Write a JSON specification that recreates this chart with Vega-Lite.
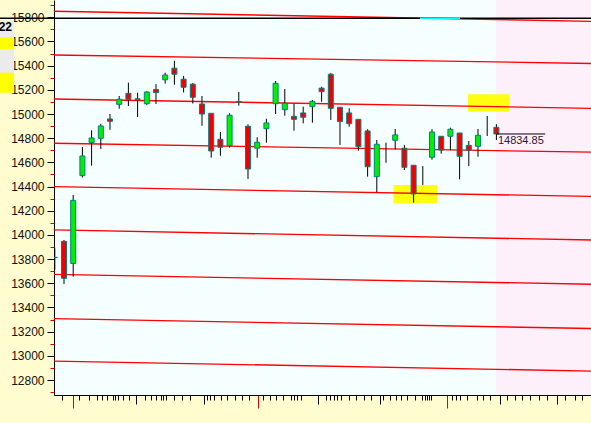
{
  "$schema": "https://vega.github.io/schema/vega-lite/v6.json",
  "width": 537,
  "height": 395,
  "autosize": {"type": "none"},
  "padding": {"left": 54, "top": 0, "right": 0, "bottom": 28},
  "background": "#fffdcf",
  "config": {"view": {"fill": "#f5ffff", "stroke": null}, "font": "Liberation Sans", "scale": {"continuousPadding": 0}},
  "resolve": {"scale": {"x": "shared", "y": "shared"}, "axis": {"x": "independent", "y": "independent"}},
  "datasets": {
    "candles": [
      {"i": -1, "o": 13815, "h": 13889, "l": 13710, "c": 13812},
      {"i": 0, "o": 13947, "h": 13958, "l": 13594, "c": 13641},
      {"i": 1, "o": 13764, "h": 14330, "l": 13655, "c": 14286},
      {"i": 2, "o": 14490, "h": 14727, "l": 14475, "c": 14653},
      {"i": 3, "o": 14763, "h": 14865, "l": 14573, "c": 14802},
      {"i": 4, "o": 14799, "h": 14919, "l": 14711, "c": 14901},
      {"i": 5, "o": 14959, "h": 15000, "l": 14870, "c": 14940},
      {"i": 6, "o": 15080, "h": 15149, "l": 15044, "c": 15122},
      {"i": 7, "o": 15171, "h": 15259, "l": 15066, "c": 15122},
      {"i": 8, "o": 15126, "h": 15176, "l": 14975, "c": 15120},
      {"i": 9, "o": 15085, "h": 15190, "l": 15075, "c": 15182},
      {"i": 10, "o": 15203, "h": 15247, "l": 15083, "c": 15178},
      {"i": 11, "o": 15283, "h": 15342, "l": 15251, "c": 15323},
      {"i": 12, "o": 15379, "h": 15440, "l": 15242, "c": 15329},
      {"i": 13, "o": 15288, "h": 15315, "l": 15178, "c": 15221},
      {"i": 14, "o": 15247, "h": 15257, "l": 15087, "c": 15138},
      {"i": 15, "o": 15083, "h": 15149, "l": 14903, "c": 15000},
      {"i": 16, "o": 15006, "h": 15006, "l": 14639, "c": 14694},
      {"i": 17, "o": 14791, "h": 14851, "l": 14655, "c": 14725},
      {"i": 18, "o": 14738, "h": 15006, "l": 14722, "c": 14990},
      {"i": 19, "o": 15104, "h": 15182, "l": 15069, "c": 15098},
      {"i": 20, "o": 14899, "h": 14915, "l": 14463, "c": 14545},
      {"i": 21, "o": 14717, "h": 14808, "l": 14639, "c": 14766},
      {"i": 22, "o": 14879, "h": 14961, "l": 14763, "c": 14926},
      {"i": 23, "o": 15085, "h": 15273, "l": 15000, "c": 15254},
      {"i": 24, "o": 15036, "h": 15207, "l": 14986, "c": 15089},
      {"i": 25, "o": 14981, "h": 15085, "l": 14862, "c": 14956},
      {"i": 26, "o": 15009, "h": 15061, "l": 14923, "c": 14973},
      {"i": 27, "o": 15061, "h": 15116, "l": 14928, "c": 15105},
      {"i": 28, "o": 15214, "h": 15226, "l": 15101, "c": 15185},
      {"i": 29, "o": 15329, "h": 15339, "l": 14951, "c": 15047},
      {"i": 30, "o": 15056, "h": 15056, "l": 14744, "c": 14937},
      {"i": 31, "o": 15009, "h": 15047, "l": 14895, "c": 14920},
      {"i": 32, "o": 14956, "h": 14956, "l": 14697, "c": 14730},
      {"i": 33, "o": 14860, "h": 14874, "l": 14482, "c": 14564},
      {"i": 34, "o": 14482, "h": 14785, "l": 14353, "c": 14750},
      {"i": 35, "o": 14680, "h": 14763, "l": 14597, "c": 14680},
      {"i": 36, "o": 14783, "h": 14876, "l": 14708, "c": 14827},
      {"i": 37, "o": 14717, "h": 14744, "l": 14537, "c": 14559},
      {"i": 38, "o": 14576, "h": 14576, "l": 14267, "c": 14339},
      {"i": 39, "o": 14490, "h": 14570, "l": 14413, "c": 14490},
      {"i": 40, "o": 14642, "h": 14874, "l": 14622, "c": 14851},
      {"i": 41, "o": 14816, "h": 14816, "l": 14672, "c": 14702},
      {"i": 42, "o": 14816, "h": 14887, "l": 14700, "c": 14874},
      {"i": 43, "o": 14843, "h": 14843, "l": 14460, "c": 14650},
      {"i": 44, "o": 14741, "h": 14777, "l": 14570, "c": 14702},
      {"i": 45, "o": 14733, "h": 14876, "l": 14647, "c": 14824},
      {"i": 46, "o": 14900, "h": 14984, "l": 14818, "c": 14900},
      {"i": 47, "o": 14890, "h": 14916, "l": 14785, "c": 14834.85}
    ],
    "channel": [
      {"line": 1, "x": -1.087, "v": 15850}, {"line": 1, "x": 57.283, "v": 15767},
      {"line": 2, "x": -1.087, "v": 15488}, {"line": 2, "x": 57.283, "v": 15418},
      {"line": 3, "x": -1.087, "v": 15124}, {"line": 3, "x": 57.283, "v": 15047},
      {"line": 4, "x": -1.087, "v": 14758}, {"line": 4, "x": 57.283, "v": 14684},
      {"line": 5, "x": -1.087, "v": 14399}, {"line": 5, "x": 57.283, "v": 14318},
      {"line": 6, "x": -1.087, "v": 14041}, {"line": 6, "x": 57.283, "v": 13958},
      {"line": 7, "x": -1.087, "v": 13674}, {"line": 7, "x": 57.283, "v": 13592},
      {"line": 8, "x": -1.087, "v": 13307}, {"line": 8, "x": 57.283, "v": 13226},
      {"line": 9, "x": -1.087, "v": 12957}, {"line": 9, "x": 57.283, "v": 12874}
    ],
    "highlights": [
      {"x1": 35.8, "x2": 40.6, "v1": 14262, "v2": 14413},
      {"x1": 43.9, "x2": 48.4, "v1": 15019, "v2": 15163}
    ]
  },
  "layer": [
    {
      "data": {"values": [{"a": 46.95, "b": 57.283, "v1": 12676, "v2": 15943}]},
      "mark": {"type": "rect", "fill": "#fdf0fb", "clip": true},
      "encoding": {
        "x": {"field": "a", "type": "quantitative", "scale": {"domain": [-1.087, 57.283], "nice": false, "zero": false, "padding": 0},
          "axis": {"orient": "bottom", "title": null, "labels": false, "grid": false, "domainColor": "#000000", "domainWidth": 1, "tickWidth": 1, "tickSize": 13, "tickColor": "#e00000",
            "values": [1.01, 21.05, 41.67]}
        },
        "x2": {"field": "b"},
        "y": {"field": "v1", "type": "quantitative", "scale": {"domain": [12676, 15943], "nice": false, "zero": false, "padding": 0},
          "axis": {"orient": "left", "title": null, "grid": false, "zindex": 0, "domainColor": "#000000", "domainWidth": 1, "tickWidth": 1, "tickSize": 7, "tickColor": "#000000",
            "values": [12800, 13000, 13200, 13400, 13600, 13800, 14000, 14200, 14400, 14600, 14800, 15000, 15200, 15400, 15600, 15800],
            "format": "d", "labelFlush": false, "labelOverlap": false, "labelPadding": 3,
            "labelFont": "Liberation Sans", "labelFontSize": 12, "labelColor": "#111111"}
        },
        "y2": {"field": "v2"}
      }
    },
    {
      "data": {"name": "highlights"},
      "mark": {"type": "rect", "fill": "#ffff10", "clip": true},
      "encoding": {
        "x": {"field": "x1", "type": "quantitative", "axis": null},
        "x2": {"field": "x2"},
        "y": {"field": "v1", "type": "quantitative", "axis": null},
        "y2": {"field": "v2"}
      }
    },
    {
      "data": {"name": "channel"},
      "mark": {"type": "line", "color": "#ff0000", "strokeWidth": 1.3, "clip": true},
      "encoding": {
        "x": {"field": "x", "type": "quantitative",
          "axis": {"orient": "bottom", "title": null, "labels": false, "grid": false, "domain": false, "tickWidth": 1, "tickSize": 5, "tickColor": "#000000",
            "values": [-0.25, 1.66, 2.75, 3.55, 4.1, 4.71, 5.29, 5.58, 5.87, 6.45, 7.03, 8.8, 9.42, 10.0, 10.51, 10.79, 11.09, 11.96, 12.79, 13.7, 15.51, 15.87, 16.3, 17.03, 17.75, 18.62, 19.32, 20.11, 21.66, 22.39, 23.04, 23.84, 24.64, 25.0, 25.36, 25.73, 28.48, 28.89, 29.3, 29.72, 30.12, 30.95, 31.76, 32.58, 33.4, 34.63, 35.45, 36.07, 36.67, 37.29, 38.11, 38.93, 39.26, 39.47, 39.66, 39.87, 42.21, 42.62, 43.03, 43.85, 44.87, 45.49, 46.3, 48.15, 48.97, 49.78, 50.61, 51.63, 52.45, 54.5, 55.52, 56.35]}
        },
        "y": {"field": "v", "type": "quantitative",
          "axis": {"orient": "left", "title": null, "labels": false, "grid": false, "domain": false, "tickWidth": 1, "tickSize": 4, "tickColor": "#e00000",
            "values": [12700, 12900, 13100, 13300, 13500, 13700, 13900, 14100, 14300, 14500, 14700, 14900, 15100, 15300, 15500, 15700, 15900]}
        },
        "detail": {"field": "line", "type": "nominal"}
      }
    },
    {
      "data": {"name": "candles"},
      "mark": {"type": "rule", "color": "#000000", "strokeWidth": 1, "clip": true},
      "encoding": {
        "x": {"field": "i", "type": "quantitative",
          "axis": {"orient": "bottom", "title": null, "labels": false, "grid": false, "domain": false, "tickWidth": 1, "tickSize": 9, "tickColor": "#000000",
            "values": [7.83, 15.25, 27.66, 34.34, 47.41, 53.6]}
        },
        "y": {"field": "l", "type": "quantitative", "axis": null},
        "y2": {"field": "h"}
      }
    },
    {
      "data": {"name": "candles"},
      "transform": [{"filter": "datum.o != datum.c"}],
      "mark": {"type": "bar", "size": 5, "stroke": "#008080", "strokeWidth": 1, "clip": true},
      "encoding": {
        "x": {"field": "i", "type": "quantitative", "axis": null},
        "y": {"field": "o", "type": "quantitative", "axis": null},
        "y2": {"field": "c"},
        "fill": {"condition": {"test": "datum.c > datum.o", "value": "#00f000"}, "value": "#f00000"}
      }
    },
    {
      "data": {"values": [{"a": -6.957, "b": 57.283, "v": 15792}]},
      "mark": {"type": "rule", "color": "#000000", "strokeWidth": 1.3, "clip": false},
      "encoding": {
        "x": {"field": "a", "type": "quantitative", "axis": null},
        "x2": {"field": "b"},
        "y": {"field": "v", "type": "quantitative", "axis": null}
      }
    },
    {
      "data": {"values": [{"a": 38.7, "b": 43.04, "v": 15792}]},
      "mark": {"type": "rule", "color": "#00ffff", "strokeWidth": 1.5, "clip": false},
      "encoding": {
        "x": {"field": "a", "type": "quantitative", "axis": null},
        "x2": {"field": "b"},
        "y": {"field": "v", "type": "quantitative", "axis": null}
      }
    },
    {
      "data": {"values": [{"a": 47, "b": 52.3, "p": 14834.85, "label": "14834.85"}]},
      "mark": {"type": "rule", "color": "#000000", "strokeWidth": 1, "clip": true},
      "encoding": {
        "x": {"field": "a", "type": "quantitative", "axis": null},
        "x2": {"field": "b"},
        "y": {"field": "p", "type": "quantitative", "axis": null}
      }
    },
    {
      "data": {"values": [{"a": 47, "b": 52.3, "p": 14834.85, "label": "14834.85"}]},
      "mark": {"type": "text", "align": "left", "baseline": "top", "dx": 1.5, "dy": 1.5, "font": "Liberation Sans", "fontSize": 11, "color": "#2a1838"},
      "encoding": {
        "x": {"field": "a", "type": "quantitative", "axis": null},
        "y": {"field": "p", "type": "quantitative", "axis": null},
        "text": {"field": "label"}
      }
    },
    {
      "data": {"values": [
        {"a": -6.957, "b": -5.435, "v1": 15171, "v2": 15772, "kind": "panel"},
        {"a": -6.957, "b": -5.435, "v1": 15535, "v2": 15634, "kind": "mark"},
        {"a": -6.957, "b": -5.435, "v1": 15176, "v2": 15342, "kind": "mark"}
      ]},
      "mark": {"type": "rect", "clip": false},
      "encoding": {
        "x": {"field": "a", "type": "quantitative", "axis": null},
        "x2": {"field": "b"},
        "y": {"field": "v1", "type": "quantitative", "axis": null},
        "y2": {"field": "v2"},
        "fill": {"field": "kind", "type": "nominal", "scale": {"domain": ["panel", "mark"], "range": ["#ebebeb", "#ffff00"]}, "legend": null}
      }
    },
    {
      "data": {"values": [{"a": -5.652, "v": 15687, "label": "22"}]},
      "mark": {"type": "text", "align": "right", "baseline": "alphabetic", "font": "Liberation Sans", "fontWeight": "bold", "fontSize": 12, "color": "#000000", "clip": false},
      "encoding": {
        "x": {"field": "a", "type": "quantitative", "axis": null},
        "y": {"field": "v", "type": "quantitative", "axis": null},
        "text": {"field": "label"}
      }
    }
  ]
}
